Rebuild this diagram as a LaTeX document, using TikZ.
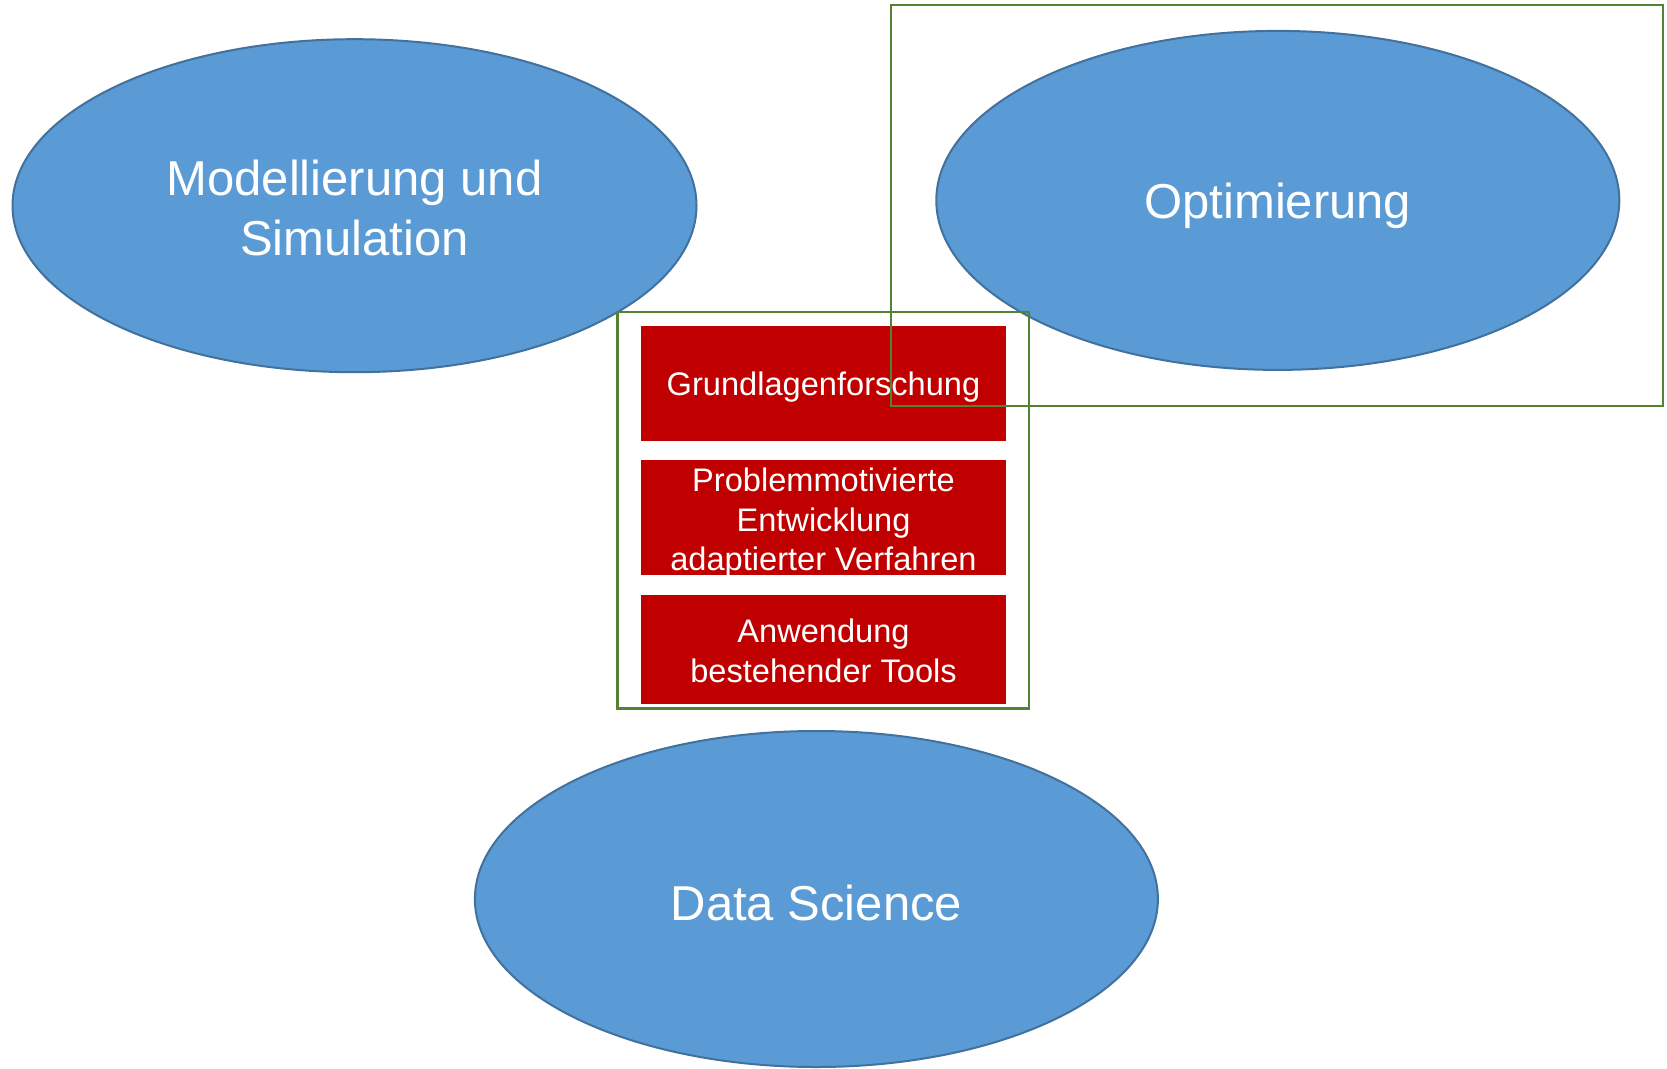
\documentclass[tikz,border=0pt]{standalone}
\usepackage{fontspec}
\setmainfont{Liberation Sans}
\usetikzlibrary{shapes.geometric}
\definecolor{blueF}{HTML}{5B9BD5}
\definecolor{blueD}{HTML}{41719C}
\definecolor{greenL}{HTML}{548235}
\definecolor{redB}{HTML}{C00000}
\begin{document}
\begin{tikzpicture}[x=1pt,y=-1pt,
  topic/.style={ellipse, fill=blueF, draw=blueD, line width=2pt, inner sep=0pt, outer sep=0pt},
  etext/.style={text=white, align=center, inner sep=0pt, font=\fontsize{49}{60}\selectfont},
  redbox/.style={rectangle, fill=redB, draw=none, inner sep=0pt, outer sep=0pt},
  btext/.style={text=white, align=center, inner sep=0pt, font=\fontsize{32.6}{39.5}\selectfont},
  gframe/.style={rectangle, draw=greenL, line width=2.5pt, fill=none, inner sep=0pt, outer sep=0pt}]
\useasboundingbox (0,0) rectangle (1667,1068);
\fill[white] (0,0) rectangle (1667,1068);
% ellipses
\node[topic, minimum width=684pt, minimum height=333pt] (ms) at (354.5,205.7) {};
\node[topic, minimum width=683pt, minimum height=339pt] (opt) at (1277.8,200.4) {};
\node[topic, minimum width=683pt, minimum height=336pt] (ds) at (816.4,899) {};
\node[etext] (mstext) at (354.5,207.5) {Modellierung und\\Simulation};
\node[etext, anchor=base] (opttext) at (1277.8,218.3) {Optimierung};
\node[etext, anchor=base] (dstext) at (816.4,920) {Data Science};
% inner frame
\node[gframe, minimum width=411.5pt, minimum height=396.7pt] (inner) at (823.25,510.35) {};
% red boxes
\node[redbox, minimum width=365pt, minimum height=114.7pt] (b1) at (823.5,383.4) {};
\node[redbox, minimum width=365pt, minimum height=115pt] (b2) at (823.5,517.5) {};
\node[redbox, minimum width=365pt, minimum height=109pt] (b3) at (823.5,649.5) {};
\node[btext, anchor=base] (t1) at (823.5,395) {Grundlagenforschung};
\node[btext] (t2) at (823.5,523) {Problemmotivierte\\Entwicklung\\adaptierter Verfahren};
\node[btext] (t3) at (823.5,651) {Anwendung\\bestehender Tools};
% outer frame around Optimierung
\node[gframe, minimum width=772pt, minimum height=401pt] (outer) at (1277,205.5) {};
\end{tikzpicture}
\end{document}
